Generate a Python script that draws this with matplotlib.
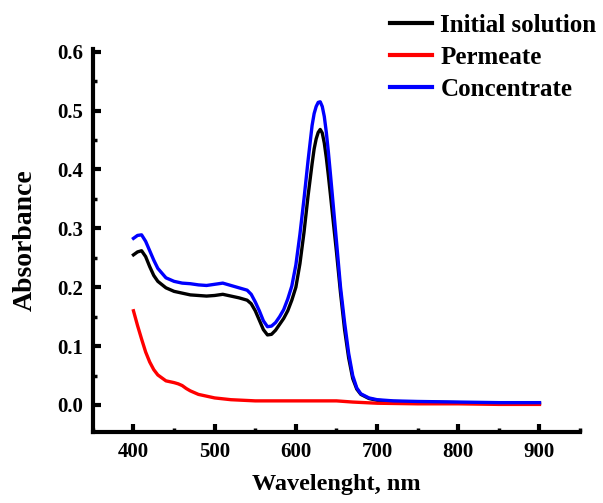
import matplotlib
matplotlib.use("Agg")
import matplotlib.pyplot as plt
from matplotlib.ticker import MultipleLocator

plt.rcParams['font.family'] = ['Liberation Serif', 'DejaVu Serif']
plt.rcParams['font.weight'] = 'bold'

wl_main = [400, 405, 410, 415, 420, 425, 430, 440, 450, 460, 470, 480, 490, 500,
           510, 520, 530, 540, 545, 550, 555, 560, 565, 570, 575, 580, 585, 590,
           595, 600, 605, 610, 615, 620, 622.5, 625, 627.5, 630, 632.5, 635, 637.5,
           640, 642.5, 645, 650, 655, 660,
           665, 670, 675, 680, 690, 700, 720, 750, 800, 850, 900]
initial = [0.255, 0.260, 0.262, 0.252, 0.235, 0.220, 0.210, 0.199, 0.193, 0.190,
           0.187, 0.186, 0.185, 0.186, 0.188, 0.185, 0.182, 0.178, 0.172, 0.160,
           0.144, 0.128, 0.119, 0.120, 0.127, 0.137, 0.147, 0.160, 0.178, 0.200,
           0.240, 0.293, 0.355, 0.410, 0.435, 0.452, 0.463, 0.468, 0.462, 0.445,
           0.420, 0.390, 0.358, 0.325, 0.260,
           0.190, 0.128, 0.080, 0.045, 0.027, 0.018, 0.011, 0.008, 0.006, 0.005,
           0.004, 0.003, 0.003]
concentrate = [0.283, 0.288, 0.289, 0.278, 0.262, 0.246, 0.232, 0.216, 0.210, 0.207,
               0.206, 0.204, 0.203, 0.205, 0.207, 0.203, 0.199, 0.195, 0.188, 0.175,
               0.160, 0.143, 0.133, 0.134, 0.140, 0.150, 0.162, 0.180, 0.202, 0.238,
               0.290, 0.350, 0.415, 0.475, 0.495, 0.507, 0.514, 0.515, 0.507, 0.490,
               0.463, 0.430, 0.393, 0.355, 0.278,
               0.200, 0.140, 0.088, 0.050, 0.029, 0.019, 0.012, 0.009, 0.007, 0.006,
               0.005, 0.004, 0.004]
wl_perm = [400, 405, 410, 415, 420, 425, 430, 440, 450, 455, 460, 465, 470, 480,
           490, 500, 520, 550, 600, 650, 670, 700, 750, 800, 850, 900]
permeate = [0.160, 0.135, 0.112, 0.090, 0.073, 0.060, 0.051, 0.041, 0.038, 0.036,
            0.033, 0.028, 0.024, 0.018, 0.015, 0.012, 0.009, 0.007, 0.007, 0.007,
            0.005, 0.003, 0.002, 0.002, 0.001, 0.001]

fig = plt.figure(figsize=(6.03, 5.03), dpi=100)
ax = fig.add_axes([0.154, 0.141, 0.808, 0.762])

ax.plot(wl_main, initial, color='black', lw=2.4, label='Initial solution')
ax.plot(wl_perm, permeate, color='#ff0000', lw=2.4, label='Permeate')
ax.plot(wl_main, concentrate, color='#0000ff', lw=2.4, label='Concentrate')

ax.set_xlim(350, 950)
ax.set_ylim(-0.046, 0.605)
ax.xaxis.set_minor_locator(MultipleLocator(50))
ax.yaxis.set_major_locator(MultipleLocator(0.1))
ax.yaxis.set_minor_locator(MultipleLocator(0.05))
ax.set_xticks([400, 500, 600, 700, 800, 900])
ax.yaxis.set_major_formatter(plt.FuncFormatter(lambda v, p: f"{v:.1f}"))

for s in ['top', 'right']:
    ax.spines[s].set_visible(False)
for s in ['left', 'bottom']:
    ax.spines[s].set_linewidth(3)
ax.tick_params(which='major', direction='in', length=6, width=3, labelsize=15, pad=7)
ax.tick_params(which='minor', direction='in', length=3, width=2.5)
for lab in ax.get_xticklabels() + ax.get_yticklabels():
    lab.set_fontweight('bold')

ax.set_xlabel('Wavelenght, nm', fontsize=17.5, fontweight='bold', labelpad=9)
ax.set_ylabel('Absorbance', fontsize=20, fontweight='bold', labelpad=14)

leg = fig.legend(loc='upper left', bbox_to_anchor=(0.630, 0.993), frameon=False,
                 prop={'size': 18, 'weight': 'bold'}, handlelength=1.7,
                 handletextpad=0.32, labelspacing=0.36, borderaxespad=0)
for l in leg.get_lines():
    l.set_linewidth(3)

fig.savefig('out.png', dpi=100)
